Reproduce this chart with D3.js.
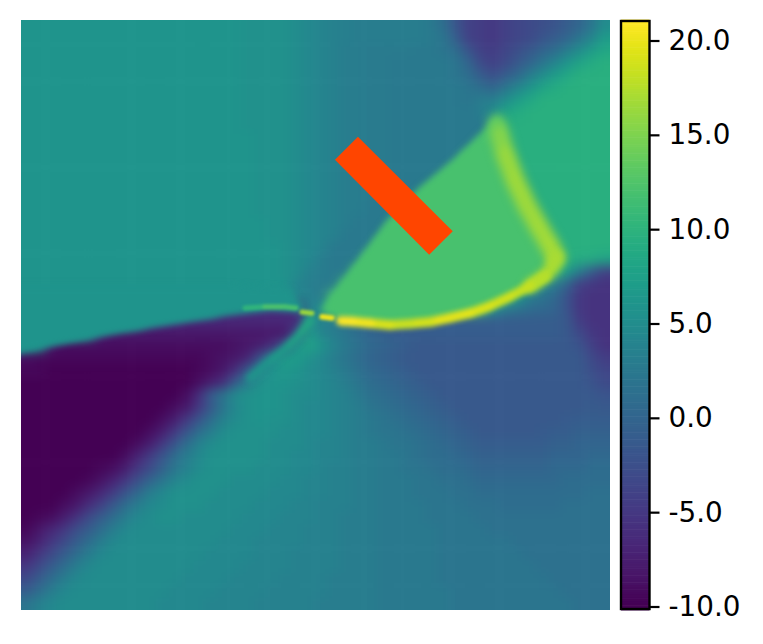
<!DOCTYPE html>
<html><head><meta charset="utf-8">
<script src="https://cdn.jsdelivr.net/npm/d3@7/dist/d3.min.js"></script>
<style>html,body{margin:0;padding:0;background:#fff}svg{display:block}text{font-family:"DejaVu Sans",sans-serif}</style>
</head><body><svg id="c" width="763" height="644"></svg>
<script>
const colorbarTicks=[-10,-5,0,5,10,15,20];
const colorDomain=[-10,21];
// positions below are percent of the field's width / height
const obstacleCorners=[[57.2,19.8],[53.3,23.7],[69.3,39.8],[73.3,35.8]];
const upperBand=[[-1.9,45],[35.5,45],[45.7,45.5],[48.4,49],[47,49.5],[42.4,49.2],[34,50.3],[25.5,51.7],[17,53.1],[8.5,54.7],[0,56.4],[-1.9,57]];
const upperBandValue=6;
const shockWedge=[[50.8,49.3],[62.1,33.9],[67.7,28.3],[73.3,23.7],[79.1,18],[80.8,16.4],[82.2,17.8],[82.3,22.9],[85.9,31.4],[90,38.5],[90.8,40.3],[89,43.4],[83,46.9],[76.2,49.7],[69.4,51.2],[62.6,51.7],[56.2,51],[53.3,50.2]];
const shockWedgeValue=12;
const branchRidge=[[49.2,50.8,9],[47,53.7,8.5],[44.7,55.9,7.5],[41.9,58.1,6.5],[38.9,60.7,6]];
const bandRidge=[[80.8,17.6,12.5],[81.3,19.5,14.5],[82.3,22.9,16],[83.9,27.1,16.5],[85.9,31.4,16.5],[88.1,35.3,16.5],[90,38.5,16.7],[90.8,40.3,17]];
const cornerRidge=[[90.8,40.3,17],[90.1,42,17],[89,43.4,17.2],[86.4,45.1,17.5]];
const arcRidge=[[89,43.4,17],[86.4,45.1,18],[83,46.9,18.5],[79.6,48.5,19],[76.2,49.7,19.5],[72.8,50.5,20],[69.4,51.2,19.5],[66,51.5,18.5],[62.6,51.7,18.5],[59.3,51.4,20],[56.2,51.1,21],[54.3,51,21]];
const lineRidge=[[38,48.8,9],[41.4,48.6,11.5],[44.8,48.6,13],[46.7,48.8,11]];
const blobA=[[47.7,49.5,16],[49.4,49.7,17]];
const blobB=[[51.1,50.3,20.5],[52.8,50.5,20]];
const grid=[
[6,6,6,6,6,6,6,6,6,6,6,6,6,6,6,6,6,6,5.5,5.5,5.5,5.5,5,4.5,4,3.5,3.3,3,3,3,3,3,3,2.5,1,-2,-4,-4.5,-5,-4,-3.5,-3,-2.5,-2,-1,0,2,5],
[6,6,6,6,6,6,6,6,6,6,6,6,6,6,6,6,6,6,5.5,5.5,5.5,5.5,5,4.5,4,3.5,3.3,3,3,3,3,3,3,2.8,2,-1,-4,-4.5,-5,-4,-3.5,-3,-2,-1,0,2,4,7],
[6,6,6,6,6,6,6,6,6,6,6,6,6,6,6,6,6,6,5.5,5.5,5.5,5.5,5,4.5,4,3.5,3,3,2.8,2.8,2.8,2.8,2.5,2.5,2,1,-2,-4,-4.5,-3.5,-2.5,-1.5,0,1,3,5,7,8.5],
[6,6,6,6,6,6,6,6,6,6,6,6,6,6,6,6,6,6,5.5,5.5,5.5,5.5,5,4.5,4,3.5,3,3,2.8,2.8,2.5,2.5,2.5,2.5,2.5,2,0,-3,-4,-3,-1.5,0,2,4,6,8,9,9.5],
[6,6,6,6,6,6,6,6,6,6,6,6,6,6,6,6,6,6,5.5,5.5,5.5,5.5,5,4.5,4,3.5,3,3,2.8,2.8,2.5,2.5,2.5,2.5,2.5,2,1,-1,-2.5,-1,0.5,3,5,7,8.5,9.5,9.5,9.5],
[6,6,6,6,6,6,6,6,6,6,6,6,6,6,6,6,6,6,5.5,5.5,5.5,5.5,5,4.5,4,3.5,3,3,2.8,2.8,2.5,2.5,2.5,2.5,2.5,2.5,2,1,0,2,4,6,8,9,9.5,9.5,9.5,9.5],
[6,6,6,6,6,6,6,6,6,6,6,6,6,6,6,6,6,6,5.5,5.5,5.5,5.5,5,4.5,4,3.5,3,3,2.8,2.8,2.5,2.5,2.5,2.5,2.5,2.5,2,3,3,5,7,8.5,9.5,9.5,9.5,9.5,9.5,9.5],
[6,6,6,6,6,6,6,6,6,6,6,6,6,6,6,6,6,6,5.5,5.5,5.5,5.5,5,4.5,4,3.5,3,3,2.8,2.8,2.5,2.5,2.5,2.5,2.5,2.5,2.5,3,5,8,9,9.5,9.5,9.5,9.5,9.5,9.5,9.5],
[6,6,6,6,6,6,6,6,6,6,6,6,6,6,6,6,6,6,5.5,5.5,5.5,5.5,5,4.5,4,3.5,3,3,2.8,2.8,2.5,2.5,2.5,2.5,2.5,2.5,2.5,2.5,3,9.5,9.5,9.5,9.5,9.5,9.5,9.5,9.5,9.5],
[6,6,6,6,6,6,6,6,6,6,6,6,6,6,6,6,6,6,6,5.5,5.5,5.5,5,4.5,4,3.5,3,3,2.8,2.8,2.5,2.5,2.5,2.5,2.5,2.5,2.5,2.5,2.5,9.5,9.5,9.5,9.5,9.5,9.5,9.5,9.5,9.5],
[6,6,6,6,6,6,6,6,6,6,6,6,6,6,6,6,6,6,6,5.5,5.5,5.5,5,4.5,4,3.5,3,3,2.8,2.8,2.5,2.5,2.5,2.5,2.5,2.5,2.5,2.5,12,9.5,9.5,9.5,9.5,9.5,9.5,9.5,9.5,9.5],
[6,6,6,6,6,6,6,6,6,6,6,6,6,6,6,6,6,6,6,5.5,5.5,5.5,5,4.5,4,3.5,3,3,2.8,2.8,2.5,2.5,2.5,2.5,2.5,2.5,12,12,12,12,9.5,9.5,9.5,9.5,9.5,9.5,9.5,9.5],
[6,6,6,6,6,6,6,6,6,6,6,6,6,6,6,6,6,6,6,5.5,5.5,5.5,5,4.5,4,3.5,3,3,2.8,2.8,2.5,2.5,2.5,2.5,2.5,12,12,12,12,12,9.5,9.5,9.5,9.5,9.5,9.5,9.5,9.5],
[6,6,6,6,6,6,6,6,6,6,6,6,6,6,6,6,6,6,6,5.5,5.5,5.5,5,4.5,4,3.5,3,3,2.8,2.8,2.5,2.5,2.5,2.5,12,12,12,12,12,12,9.5,9.5,9.5,9.5,9.5,9.5,9.5,9.5],
[6,6,6,6,6,6,6,6,6,6,6,6,6,6,6,6,6,6,6,5.5,5.5,5.5,5,4.5,4,3.5,3,3,2.8,2.5,2.5,2.5,2.5,12,12,12,12,12,12,12,12,9.5,9.5,9.5,9.5,9.5,9.5,9.5],
[6,6,6,6,6,6,6,6,6,6,6,6,6,6,6,6,6,6,6,5.5,5.5,5.5,5,4.5,4,3.5,3,3,2.5,2.5,2.5,2.5,12,12,12,12,12,12,12,12,12,9.5,9.5,9.5,9.5,9.5,9.5,9.5],
[6,6,6,6,6,6,6,6,6,6,6,6,6,6,6,6,6,6,6,6,5.5,5.5,5,4.5,4,3.5,3,2.5,2.5,2.5,2.5,12,12,12,12,12,12,12,12,12,12,12,9.5,9.5,9.5,9.5,9.5,9.5],
[6,6,6,6,6,6,6,6,6,6,6,6,6,6,6,6,6,6,6,6,5.5,5.5,5,4.5,4,3.5,2.5,2.5,2.5,2.5,12,12,12,12,12,12,12,12,12,12,12,12,9.5,9.5,9.5,9.5,9.5,9.5],
[6,6,6,6,6,6,6,6,6,6,6,6,6,6,6,6,6,6,6,6,6,5.5,5,4.5,4,2.5,2.5,2.5,2.5,12,12,12,12,12,12,12,12,12,12,12,12,12,12,9.5,9.5,9.5,9.5,9.5],
[6,6,6,6,6,6,6,6,6,6,6,6,6,6,6,6,6,6,6,6,6,5.5,5,4.5,3,2.5,2.5,2.5,12,12,12,12,12,12,12,12,12,12,12,12,12,12,12,12,9.5,9,9,8],
[6,6,6,6,6,6,6,6,6,6,6,6,6,6,6,6,6,6,6,6,6,5.5,5,3.5,3,2.5,2.5,12,12,12,12,12,12,12,12,12,12,12,12,12,12,12,12,12,7,3,-1,-4],
[6,6,6,6,6,6,6,6,6,6,6,6,6,6,6,6,6,6,6,6,6,6,4,3.2,2.8,2.5,12,12,12,12,12,12,12,12,12,12,12,12,12,12,12,12,5,3,0,-4,-5,-5.5],
[6,6,6,6,6,6,6,6,6,6,6,6,6,6,6,6,6,6,6,6,6,5.5,4.5,3.5,2.8,12,12,12,12,12,12,12,12,12,12,12,12,12,12,12,7,3,2,0.5,-2,-5,-5.5,-5.5],
[6,6,6,6,6,6,6,6,6,6,6,6,6,6,6,6,-6,-6,-6,-6,-6,-6,-6,3.5,5,12,12,12,12,12,12,12,12,12,12,12,12,12,6,3,2,1,0.5,0,-2,-5,-5.5,-5.5],
[6,6,6,6,6,6,6,6,6,6,-6,-6,-6,-6.5,-6.5,-6.5,-6.5,-6.5,-6.5,-6.5,-6.5,-6.5,-6.5,5,3.5,3,2,1,0,-0.5,-1,-1,-1,-1,-1,-1,-1,-1,-1,-1,-1,-1,-1,-1,-1.5,-4.5,-5.5,-5.5],
[6,6,6,6,6,6,-7,-8,-8,-8,-8,-8,-8,-8,-8,-8,-8,-8,-8,-8,-8,-8,-2,7,4,3,2,1,0,-0.5,-1,-1,-1,-1,-1,-1,-1,-1,-1,-1,-1,-1,-1,-1,-1.5,-3,-5,-5.5],
[6,6,-8,-9,-9,-9,-9,-9,-9,-9,-9,-9,-9,-9,-9,-9,-9,-8.5,-8,-7.5,-6,-1,6,8,6,4,2.5,1.5,0.5,0,-0.5,-1,-1.5,-1.5,-1.5,-1.5,-1.5,-1.5,-1.5,-1.5,-1.5,-1.5,-1.5,-1.5,-1.5,-2,-4,-5.5],
[-9,-9.5,-9.5,-9.5,-9.5,-9.5,-9.5,-9.5,-9.5,-9.5,-9.5,-9.5,-9.5,-9.5,-9.5,-9,-8.5,-8,-7,-2,4,7,7,5.5,4.5,3,2,1,0,-0.5,-1,-1.5,-1.5,-1.5,-1.5,-1.5,-1.5,-1.5,-1.5,-1.5,-1.5,-1.5,-1.5,-1.5,-1.5,-1.5,-3,-4.5],
[-9.5,-9.5,-10,-10,-10,-10,-10,-10,-10,-10,-10,-10,-10,-10,-9.5,-9,-8,-6,-1,4,6,6.5,6,5,4.5,3.5,2.5,1.5,0.5,0,-0.5,-1,-1.5,-1.5,-1.5,-1.5,-1.5,-1.5,-1.5,-1.5,-1.5,-1.5,-1.5,-1.5,-1.5,-1.5,-2.5,-3.5],
[-10,-10,-10,-10,-10,-10,-10,-10,-10,-10,-10,-10,-10,-10,-9,-7.5,-6,-1,3,5.5,6,6,5.5,5,4.5,4,3,2,1,0.5,0,-0.5,-1,-1.5,-1.5,-1.5,-1.5,-1.5,-1.5,-1.5,-1.5,-1.5,-1.5,-1.5,-1.5,-1.5,-2,-3],
[-10,-10,-10,-10,-10,-10,-10,-10,-10,-10,-10,-10,-10,-9,-6,-1,2,5,5.5,6,6,5.5,5,5,4.5,4,3.5,2.5,1.5,1,0.5,0,-0.5,-1,-1.5,-1.5,-1.5,-1.5,-1.5,-1.5,-1.5,-1.5,-1.5,-1.5,-1.5,-1.5,-1.5,-2],
[-10,-10,-10,-10,-10,-10,-10,-10,-10,-10,-10,-10,-9,-8,-5,-1.5,2,4.5,5.5,6,6,5.5,5,4.5,4.5,4,3.5,3,2,1.5,1,0.5,0,-0.5,-1,-1.5,-1.5,-1.5,-1.5,-1.5,-1.5,-1.5,-1.5,-1.5,-1.5,-1.5,-1.2,-1.5],
[-10,-10,-10,-10,-10,-10,-10,-10,-10,-10,-10,-9,-7.5,-5,-2,1,3.5,5,5.5,6,5.5,5.5,5,4.5,4.5,4,3.5,3,2.5,2,1.5,1,0.5,0,-0.5,-1,-1.5,-1.5,-1.5,-1.5,-1.5,-1.5,-1.5,-1.5,-1.2,-1,-1,-1],
[-10,-10,-10,-10,-10,-10,-10,-10,-10,-10,-9,-7.5,-5,-2,1,3,5,5.5,5.5,5.5,5.5,5,5,4.5,4.5,4,3.5,3,2.5,2,2,1.5,1,0.5,0,-0.5,-1,-1.5,-1.5,-1.5,-1.5,-1.5,-1.2,-1,-1,-0.5,-0.5,-0.5],
[-10,-10,-10,-10,-10,-10,-10,-10,-10,-9,-7.5,-5,-2,1,3.5,5,5.5,5.5,5.5,5.5,5,5,5,4.5,4,4,3.5,3,3,2.5,2,2,1.5,1,0.5,0,-0.5,-1,-1,-1,-1,-1,-1,-0.5,-0.5,0,0,0],
[-10,-10,-10,-10,-10,-10,-10,-10,-9,-7,-4.5,-2,1,3,4.5,5.5,5.5,5.5,5.5,5.5,5,5,4.5,4.5,4,4,3.5,3,3,2.5,2.5,2,1.5,1,1,0.5,0,-0.5,-0.5,-0.5,-0.5,-0.5,-0.5,0,0,0,0.5,0.5],
[-10,-10,-10,-10,-10,-10,-9.5,-9,-7.5,-5,-3,-0.5,2,3.5,5,5.5,5.5,5.5,5.5,5,5,5,4.5,4.5,4,3.5,3.5,3,3,2.5,2.5,2,2,1.5,1,1,0.5,0,0,0,0,0,0,0.5,0.5,0.5,1,1],
[-10,-10,-10,-10,-10,-9.5,-8.5,-7,-5,-2.5,0,2,4,5,5.5,5.5,5.5,5,5,5,5,4.5,4.5,4,4,3.5,3.5,3,3,2.5,2.5,2.5,2,2,1.5,1.5,1,0.5,0.5,0.5,0.5,0.5,0.5,0.5,1,1,1,1],
[-10,-10,-10,-10,-9,-8,-6.5,-4.5,-2,0.5,3,4.5,5.5,5.5,5.5,5.5,5,5,5,5,4.5,4.5,4.5,4,4,3.5,3.5,3,3,2.5,2.5,2.5,2,2,2,1.5,1.5,1,1,1,1,1,1,1,1,1,1.5,1.5],
[-10,-10,-10,-9,-8,-6,-4,-1.5,1,3,4.5,5,5.5,5.5,5.5,5,5,5,5,4.5,4.5,4.5,4,4,3.5,3.5,3.5,3,3,2.5,2.5,2.5,2.5,2,2,2,1.5,1.5,1.5,1,1,1,1,1,1.5,1.5,1.5,1.5],
[-10,-9.5,-9,-7.5,-5.5,-3,-1,1,3,4.5,5,5.5,5.5,5,5,5,5,5,4.5,4.5,4.5,4,4,4,3.5,3.5,3,3,3,2.5,2.5,2.5,2.5,2,2,2,2,1.5,1.5,1.5,1.5,1.5,1.5,1.5,1.5,1.5,1.5,1.5],
[-9.5,-8,-6.5,-5,-2.5,-1,1,3,4.5,5,5,5,5,5,5,5,5,4.5,4.5,4.5,4,4,4,3.5,3.5,3.5,3,3,3,2.5,2.5,2.5,2.5,2.5,2,2,2,2,1.5,1.5,1.5,1.5,1.5,1.5,1.5,1.5,1.5,1.5],
[-8.5,-7,-5,-3,-1,1,3,4.5,5,5,5,5,5,5,5,5,4.5,4.5,4.5,4,4,4,4,3.5,3.5,3.5,3,3,3,2.5,2.5,2.5,2.5,2.5,2,2,2,2,2,2,1.5,1.5,1.5,1.5,1.5,1.5,1.5,1.5],
[-7,-5,-3,-1,1,3,4.5,5,5,5,5,5,5,5,5,4.5,4.5,4.5,4.5,4,4,4,3.5,3.5,3.5,3.5,3,3,3,2.5,2.5,2.5,2.5,2.5,2,2,2,2,2,2,2,1.5,1.5,1.5,1.5,1.5,1.5,1.5],
[-5,-3,-1,1,3,4.5,5,5,5,5,5,5,5,5,4.5,4.5,4.5,4.5,4,4,4,4,3.5,3.5,3.5,3.5,3,3,3,2.5,2.5,2.5,2.5,2.5,2,2,2,2,2,2,2,2,1.5,1.5,1.5,1.5,1.5,1.5],
[-3,-1,1,3,4.5,5,5,5,5,5,5,5,5,4.5,4.5,4.5,4.5,4,4,4,4,3.5,3.5,3.5,3.5,3,3,3,3,2.5,2.5,2.5,2.5,2.5,2,2,2,2,2,2,2,2,2,1.5,1.5,1.5,1.5,1.5],
[-1,1,3,4.5,5,5,5,5,5,5,5,5,4.5,4.5,4.5,4.5,4,4,4,4,3.5,3.5,3.5,3.5,3.5,3,3,3,3,2.5,2.5,2.5,2.5,2.5,2.5,2,2,2,2,2,2,2,2,2,1.5,1.5,1.5,1.5],
[2,3.5,4.5,5,5,5,5,5,5,5,5,4.5,4.5,4.5,4.5,4,4,4,4,3.5,3.5,3.5,3.5,3.5,3,3,3,3,3,2.5,2.5,2.5,2.5,2.5,2.5,2,2,2,2,2,2,2,2,2,2,1.5,1.5,1.5]
];
grid.forEach((r,i)=>{if(r.length!==48)throw new Error("row "+i+" has "+r.length)});

const svg=d3.select("#c");
const idx=d3.range(48);
const L=21,R=610,T=20,B=610;
const xB=d3.scaleBand().domain(idx).range([L,R]);
const yB=d3.scaleBand().domain(idx).range([T,B]);
const color=d3.scaleSequential(d3.interpolateViridis).domain(colorDomain);
const defs=svg.append("defs");
defs.append("clipPath").attr("id","plot").append("rect").attr("x",L).attr("y",T).attr("width",R-L).attr("height",B-T);
const blur=(id,sd)=>defs.append("filter").attr("id",id).attr("filterUnits","userSpaceOnUse").attr("color-interpolation-filters","sRGB").attr("x",L-40).attr("y",T-40).attr("width",R-L+80).attr("height",B-T+80)
  .append("feGaussianBlur").attr("stdDeviation",sd);
blur("soft",6);blur("edge",3);blur("band",5);blur("corner",3.6);blur("arc",2.4);blur("fine",1.4);
const cells=grid.flatMap((row,r)=>row.map((v,c)=>({r,c,v})));
const pad=30;
const plot=svg.append("g").attr("clip-path","url(#plot)");
plot.append("g").attr("filter","url(#soft)")
 .selectAll("rect").data(cells).join("rect")
 .attr("x",d=>xB(d.c)-(d.c===0?pad:0)-0.3)
 .attr("y",d=>yB(d.r)-(d.r===0?pad:0)-0.3)
 .attr("width",d=>xB.bandwidth()+(d.c===0||d.c===47?pad:0)+0.6)
 .attr("height",d=>yB.bandwidth()+(d.r===0||d.r===47?pad:0)+0.6)
 .attr("fill",d=>color(d.v));

const fx=d3.scaleLinear().domain([0,100]).range([L,R]);
const fy=d3.scaleLinear().domain([0,100]).range([T,B]);
const area=d3.line().x(d=>fx(d[0])).y(d=>fy(d[1])).curve(d3.curveLinearClosed);
const seg=d3.line().x(d=>fx(d[0])).y(d=>fy(d[1]));
plot.append("path").datum(upperBand).attr("d",area).attr("fill",color(upperBandValue)).attr("filter","url(#edge)");
plot.append("path").datum(shockWedge).attr("d",area).attr("fill",color(shockWedgeValue)).attr("filter","url(#edge)");
function ridge(points,width,filter){
  const g=plot.append("g").attr("filter",`url(#${filter})`);
  g.selectAll("path").data(d3.pairs(points)).join("path")
   .attr("d",seg).attr("fill","none").attr("stroke-width",width).attr("stroke-linecap","round")
   .attr("stroke",d=>color((d[0][2]+d[1][2])/2));
}
ridge(branchRidge,8,"edge");
ridge(bandRidge,19,"band");
ridge(cornerRidge,14,"corner");
ridge(arcRidge,9.5,"arc");
ridge(lineRidge,5,"fine");
ridge(blobA,5,"fine");
ridge(blobB,5.5,"fine");

svg.append("path").datum(obstacleCorners).attr("d",area).attr("fill","#ff4500");

// colorbar
const bx0=621,bx1=649.5;
const cb=d3.scaleLinear().domain([-10,20]).range([606.5,40.5]);
const topV=cb.invert(21),botV=cb.invert(609);
const levels=d3.range(0,256).map(i=>botV+(topV-botV)*i/255);
const stepH=(cb(botV)-cb(topV))/256;
svg.append("g").selectAll("rect").data(levels).join("rect")
 .attr("x",bx0).attr("width",bx1-bx0)
 .attr("y",d=>cb(d)-stepH/2-0.3).attr("height",stepH+0.6)
 .attr("fill",d=>color(d));
svg.append("rect").attr("x",bx0).attr("y",21).attr("width",bx1-bx0).attr("height",588)
 .attr("fill","none").attr("stroke","#000").attr("stroke-width",2.4);
const ax=svg.append("g").attr("transform",`translate(${bx1},0)`)
 .call(d3.axisRight(cb).tickValues(colorbarTicks).tickSize(10).tickPadding(9).tickFormat(d=>d3.format(".1f")(d).replace("\u2212","-")));
ax.select(".domain").remove();
ax.selectAll("line").attr("stroke","#000").attr("stroke-width",2.2);
ax.selectAll("text").attr("font-size",27.8).attr("fill","#000").attr("font-family","DejaVu Sans");
</script></body></html>
